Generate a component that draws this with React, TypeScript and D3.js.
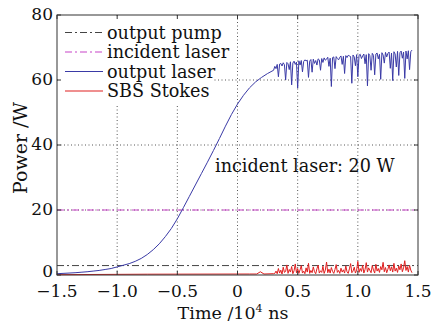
import React from "react";
import * as d3 from "d3";

// smooth rise of the output laser (time in 10^4 ns, power in W)
const riseTime = [
  -1.5, -1.45, -1.4, -1.35, -1.3, -1.25, -1.2, -1.15, -1.1, -1.05, -1.0, -0.95, -0.9, -0.85, -0.8, -0.75,
  -0.7, -0.65, -0.6, -0.55, -0.5, -0.45, -0.4, -0.35, -0.3, -0.25, -0.2, -0.15, -0.1, -0.05, 0, 0.05, 0.1,
  0.15, 0.2, 0.25, 0.3,
];
const risePower = [
  0.4, 0.5, 0.6, 0.7, 0.85, 1.0, 1.2, 1.4, 1.7, 2.0, 2.5, 3.0, 3.5, 4.2, 5.1, 6.3, 7.8, 9.6, 11.8, 14.3, 17.3,
  20.7, 24.2, 27.7, 31.2, 34.7, 38.3, 42.0, 45.8, 49.4, 52.6, 55.3, 57.6, 59.4, 60.8, 62.0, 63.0,
];

// fluctuating part, sampled every 0.01 from 0.31 to 1.45
const noisyTime = d3.range(31, 146).map(i => i / 100);
const noisyLaser = [
  64.2, 63.5, 64.8, 61.0, 64.9, 65.1, 64.3, 65.3, 64.7, 60.0,
  65.4, 65.0, 63.2, 65.6, 58.5, 65.2, 65.8, 64.8, 65.5, 57.5,
  65.9, 64.6, 66.0, 62.5, 65.7, 66.2, 65.9, 66.1, 60.8, 65.8,
  66.3, 62.4, 66.4, 65.1, 66.0, 64.6, 66.5, 66.2, 63.0, 66.6,
  65.4, 66.8, 66.1, 66.4, 67.0, 64.2, 66.7, 58.0, 66.9, 67.1,
  63.5, 67.2, 66.6, 66.2, 67.0, 67.4, 64.8, 67.3, 62.0, 67.5,
  66.9, 67.6, 67.4, 67.2, 59.0, 67.7, 67.1, 64.4, 67.8, 61.0,
  67.6, 67.9, 66.6, 67.4, 68.0, 65.0, 67.8, 58.2, 68.1, 67.5,
  63.0, 68.2, 67.6, 61.6, 68.0, 68.3, 66.5, 67.9, 60.2, 68.4,
  67.7, 65.2, 68.5, 67.1, 68.2, 68.6, 63.6, 68.3, 59.8, 68.7,
  68.0, 64.0, 68.8, 61.4, 68.4, 68.9, 66.7, 68.6, 60.5, 68.9,
  66.5, 69.0, 63.2, 68.7, 69.2,
];
const noisyStokes = [
  0.5, 1.2, 0.4, 2.0, 0.6, 1.5, 0.3, 2.4, 0.8, 1.1,
  3.1, 0.5, 1.7, 0.9, 2.6, 0.4, 1.3, 3.4, 0.7, 2.0,
  0.5, 1.6, 2.9, 0.6, 1.2, 0.4, 2.2, 0.9, 3.6, 0.5,
  1.4, 0.7, 2.5, 1.0, 0.4, 1.9, 3.0, 0.6, 1.3, 0.8,
  2.7, 0.5, 1.5, 4.0, 0.7, 1.8, 0.6, 2.3, 1.1, 0.5,
  1.7, 3.2, 0.8, 1.4, 0.5, 2.1, 0.9, 1.6, 0.6, 2.8,
  1.0, 0.5, 1.9, 3.5, 0.7, 1.2, 2.4, 0.6, 1.5, 4.2,
  0.8, 2.0, 1.1, 3.0, 0.6, 1.7, 3.8, 0.9, 2.2, 1.4,
  0.7, 2.9, 1.5, 0.6, 3.3, 1.2, 2.0, 0.8, 2.6, 1.6,
  3.9, 1.0, 2.3, 0.7, 1.8, 3.1, 1.3, 2.5, 0.9, 3.6,
  1.2, 2.1, 0.8, 2.8, 1.6, 3.4, 1.0, 2.2, 4.4, 1.4,
  2.6, 0.9, 3.0, 1.5, 0.7,
];
// stokes before the fluctuations
const stokesTime = [-1.5, -0.75, 0.1, 0.16, 0.19, 0.22, 0.3];
const stokesPower = [0.1, 0.25, 0.3, 0.3, 1.0, 0.3, 0.4];

const pumpLevel = 2.9;
const incidentLevel = 20;

const xTicks = [-1.5, -1.0, -0.5, 0, 0.5, 1.0, 1.5];
const xTickLabels = ["\u22121.5", "\u22121.0", "\u22120.5", "0", "0.5", "1.0", "1.5"];
const yTicks = [0, 20, 40, 60, 80];

const legendItems = [
  { label: "output pump", color: "#444", dash: "7 3 2 3" },
  { label: "incident laser", color: "#c844c8", dash: "7 3 2 3" },
  { label: "output laser", color: "#3a3aa6", dash: "" },
  { label: "SBS Stokes", color: "#e02020", dash: "" },
];

export default function App() {
  const width = 431;
  const height = 324;
  const margin = { top: 15, right: 13, bottom: 49, left: 57 };
  const x = d3.scaleLinear().domain([-1.5, 1.5]).range([margin.left, width - margin.right]);
  const y = d3.scaleLinear().domain([0, 80]).range([height - margin.bottom, margin.top]);
  const line = d3
    .line<[number, number]>()
    .x(d => x(d[0]))
    .y(d => y(d[1]));

  const laser: [number, number][] = [
    ...riseTime.map((t, i) => [t, risePower[i]] as [number, number]),
    ...noisyTime.map((t, i) => [t, noisyLaser[i]] as [number, number]),
  ];
  const stokes: [number, number][] = [
    ...stokesTime.map((t, i) => [t, stokesPower[i]] as [number, number]),
    ...noisyTime.map((t, i) => [t, noisyStokes[i]] as [number, number]),
  ];
  const x0 = x(-1.5);
  const x1 = x(1.5);
  const yb = y(0);
  const yt = y(80);
  const font = "'DejaVu Serif', serif";

  return (
    <svg width={width} height={height} style={{ position: "absolute", left: 0, top: 0, background: "#fff" }} fontFamily={font}>
      {/* grid */}
      <g stroke="#444" strokeWidth={0.9} strokeDasharray="1 2.5">
        {xTicks.slice(1, -1).map(t => (
          <line key={"gx" + t} x1={x(t)} x2={x(t)} y1={yb} y2={yt} />
        ))}
        {yTicks.slice(1, -1).map(t => (
          <line key={"gy" + t} x1={x0} x2={x1} y1={y(t)} y2={y(t)} />
        ))}
      </g>
      {/* legend background */}
      <rect x={x0 + 1} y={yt + 1} width={155} height={88} fill="#fff" />
      {/* series */}
      <line x1={x0} x2={x1} y1={y(incidentLevel)} y2={y(incidentLevel)} stroke="#c844c8" strokeWidth={1} strokeDasharray="7 3 2 3" />
      <line x1={x0} x2={x1} y1={y(pumpLevel)} y2={y(pumpLevel)} stroke="#444" strokeWidth={1} strokeDasharray="7 3 2 3" />
      <path d={line(stokes) ?? ""} fill="none" stroke="#e02020" strokeWidth={1} />
      <path d={line(laser) ?? ""} fill="none" stroke="#3a3aa6" strokeWidth={1} />
      {/* box and ticks */}
      <rect x={x0} y={yt} width={x1 - x0} height={yb - yt} fill="none" stroke="#333" strokeWidth={1} />
      <g stroke="#333" strokeWidth={1}>
        {xTicks.map(t => (
          <g key={"tx" + t}>
            <line x1={x(t)} x2={x(t)} y1={yb} y2={yb - 4} />
            <line x1={x(t)} x2={x(t)} y1={yt} y2={yt + 4} />
          </g>
        ))}
        {yTicks.map(t => (
          <g key={"ty" + t}>
            <line x1={x0} x2={x0 + 4} y1={y(t)} y2={y(t)} />
            <line x1={x1} x2={x1 - 4} y1={y(t)} y2={y(t)} />
          </g>
        ))}
      </g>
      <g fontSize={17} fill="#111">
        {xTicks.map((t, i) => (
          <text key={"lx" + t} x={x(t)} y={yb + 22} textAnchor="middle">
            {xTickLabels[i]}
          </text>
        ))}
        {yTicks.map(t => (
          <text key={"ly" + t} x={x0 - 4} y={y(t) + (t === 0 ? 2 : 5)} textAnchor="end">
            {t}
          </text>
        ))}
      </g>
      <text x={233} y={319} textAnchor="middle" fontSize={17.5} fill="#111">
        Time /10<tspan fontSize={11} dy={-7}>4</tspan>
        <tspan dy={7}> ns</tspan>
      </text>
      <text transform={`translate(27,148) rotate(-90)`} textAnchor="middle" fontSize={19} fill="#111">
        Power /W
      </text>
      <text x={215} y={172} fontSize={17.6} fill="#111">
        incident laser: 20 W
      </text>
      {/* legend */}
      {legendItems.map((d, i) => {
        const cy = 32.5 + i * 19.5;
        return (
          <g key={d.label}>
            <line x1={65} x2={103} y1={cy} y2={cy} stroke={d.color} strokeWidth={1.2} strokeDasharray={d.dash} />
            <text x={107} y={cy + 6} fontSize={17.6} fill="#111">
              {d.label}
            </text>
          </g>
        );
      })}
    </svg>
  );
}
